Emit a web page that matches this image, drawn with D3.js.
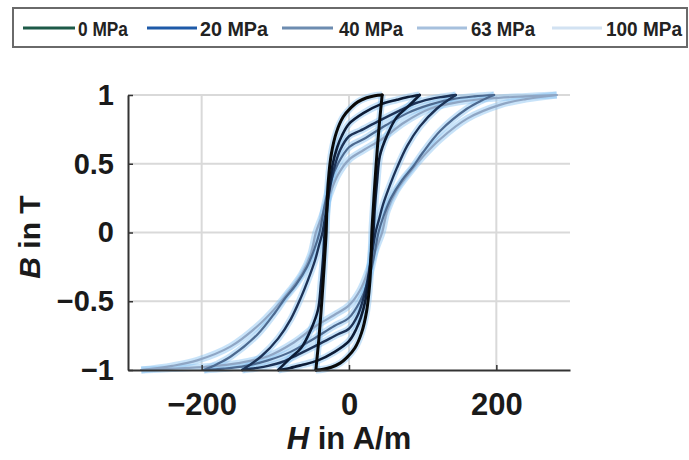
<!DOCTYPE html>
<html>
<head>
<meta charset="utf-8">
<script src="https://cdn.jsdelivr.net/npm/d3@7"></script>
<style>
  html, body { margin: 0; padding: 0; background: #fff; }
  svg { display: block; }
</style>
</head>
<body>
<svg id="chart" width="689" height="460"></svg>
<script>
// ---------------- data ----------------
const stressLabels = ["0 MPa", "20 MPa", "40 MPa", "63 MPa", "100 MPa"];
const xTicks = [-200, 0, 200];
const yTicks = [-1, -0.5, 0, 0.5, 1];

// ascending branches [H in A/m, B in T]
const asc0 = [[-45,-1],[-35,-0.995],[-24,-0.98],[-12,-0.95],[-3,-0.91],[8,-0.84],[17,-0.73],[24,-0.57],[28,-0.38],[30,-0.18],[31,0],[33,0.18],[35,0.35],[38,0.58],[41,0.78],[43.5,0.92],[45,1]];
const asc20 = [[-96,-1],[-80,-0.985],[-65,-0.965],[-42,-0.93],[-20,-0.87],[0,-0.79],[10,-0.7],[16,-0.62],[22,-0.5],[27,-0.32],[30,-0.15],[33,0],[35,0.18],[38,0.37],[42,0.56],[52,0.71],[65,0.84],[79,0.91],[96,1]];
const asc40 = [[-145,-1],[-125,-0.985],[-110,-0.97],[-90,-0.94],[-70,-0.89],[-40,-0.81],[-15,-0.74],[0,-0.7],[12,-0.6],[20,-0.47],[26,-0.32],[31,-0.16],[36,0],[41,0.1],[46,0.2],[56,0.35],[65,0.47],[79,0.63],[96,0.77],[119,0.9],[145,1]];
const asc63 = [[-197,-1],[-170,-0.99],[-140,-0.97],[-110,-0.93],[-80,-0.87],[-50,-0.78],[-20,-0.68],[0,-0.62],[15,-0.5],[25,-0.37],[33,-0.2],[40,0],[47,0.12],[57,0.25],[72,0.38],[87,0.48],[100,0.58],[124,0.74],[160,0.9],[180,0.96],[197,1]];
const asc100 = [[-282,-1],[-240,-0.99],[-191,-0.975],[-150,-0.95],[-110,-0.9],[-75,-0.8],[-45,-0.68],[-20,-0.6],[0,-0.53],[15,-0.42],[28,-0.25],[38,-0.1],[45,0],[52,0.16],[64,0.3],[80,0.42],[100,0.55],[124,0.68],[161,0.83],[206,0.93],[240,0.97],[282,1]];

// descending branches [H in A/m, B in T]
const desc0 = [[45,1],[35,0.995],[24,0.98],[12,0.95],[3,0.91],[-8,0.84],[-17,0.73],[-24,0.57],[-28,0.38],[-30,0.18],[-31,0],[-33,-0.18],[-35,-0.35],[-38,-0.58],[-41,-0.78],[-43.5,-0.92],[-45,-1]];
const desc20 = [[96,1],[80,0.985],[65,0.965],[42,0.93],[20,0.87],[0,0.79],[-10,0.7],[-16,0.62],[-22,0.5],[-27,0.32],[-30,0.15],[-33,0],[-35,-0.18],[-38,-0.37],[-42,-0.56],[-52,-0.71],[-65,-0.84],[-79,-0.91],[-96,-1]];
const desc40 = [[145,1],[125,0.985],[110,0.97],[90,0.94],[70,0.89],[40,0.81],[15,0.74],[0,0.7],[-12,0.6],[-20,0.47],[-26,0.32],[-31,0.16],[-36,0],[-41,-0.1],[-46,-0.2],[-56,-0.35],[-65,-0.47],[-79,-0.63],[-96,-0.77],[-119,-0.9],[-145,-1]];
const desc63 = [[197,1],[170,0.99],[140,0.97],[110,0.93],[80,0.87],[50,0.78],[20,0.68],[0,0.62],[-15,0.5],[-25,0.37],[-33,0.2],[-40,0],[-47,-0.12],[-57,-0.25],[-72,-0.38],[-87,-0.48],[-100,-0.58],[-124,-0.74],[-160,-0.9],[-180,-0.96],[-197,-1]];
const desc100 = [[282,1],[240,0.99],[191,0.975],[150,0.95],[110,0.9],[75,0.8],[45,0.68],[20,0.6],[0,0.53],[-15,0.42],[-28,0.25],[-38,0.1],[-45,0],[-52,-0.16],[-64,-0.3],[-80,-0.42],[-100,-0.55],[-124,-0.68],[-161,-0.83],[-206,-0.93],[-240,-0.97],[-282,-1]];

// ---------------- styling ----------------
const legendColors = ["#1d5a48", "#1e5aa8", "#6d8cb0", "#a6c0dd", "#d2e2f2"];
const plotColors   = ["#0a0a0a", "#0d1c36", "#1d3357", "#4d6a90", "#8fa6c4"];
const plotWidths   = [3, 2.6, 2.4, 2.2, 2.2];

const loops = [
  {label: stressLabels[0], branches: [asc0, desc0]},
  {label: stressLabels[1], branches: [asc20, desc20]},
  {label: stressLabels[2], branches: [asc40, desc40]},
  {label: stressLabels[3], branches: [asc63, desc63]},
  {label: stressLabels[4], branches: [asc100, desc100]}
];

const svg = d3.select("#chart");
const x = d3.scaleLinear().domain([-300, 300]).range([128, 570]);
const y = d3.scaleLinear().domain([-1, 1]).range([370, 95]);

// grid
const grid = svg.append("g");
grid.selectAll("line.gx").data(xTicks).join("line")
  .attr("x1", d => x(d)).attr("x2", d => x(d))
  .attr("y1", y(-1)).attr("y2", y(1))
  .attr("stroke", "#d9d9d9").attr("stroke-width", 2);
grid.selectAll("line.gy").data(yTicks.filter(d => d > -1)).join("line")
  .attr("x1", x(-300)).attr("x2", x(300))
  .attr("y1", d => y(d)).attr("y2", d => y(d))
  .attr("stroke", "#d9d9d9").attr("stroke-width", 2);

// curves
const line = d3.line().x(d => x(d[0])).y(d => y(d[1])).curve(d3.curveCatmullRom.alpha(0.5));
const order = [4, 3, 2, 1, 0];
const halo = svg.append("g");
order.forEach(i => {
  loops[i].branches.forEach(b => {
    halo.append("path").attr("d", line(b)).attr("fill", "none")
      .attr("stroke", "#86c0f2").attr("stroke-opacity", 0.45)
      .attr("stroke-width", 7).attr("stroke-linejoin", "round");
  });
});
const cores = svg.append("g");
order.forEach(i => {
  loops[i].branches.forEach(b => {
    cores.append("path").attr("d", line(b)).attr("fill", "none")
      .attr("stroke", plotColors[i]).attr("stroke-width", plotWidths[i])
      .attr("stroke-linejoin", "miter").attr("stroke-linecap", "round");
  });
});

// axes
const xAxis = d3.axisBottom(x).tickValues(xTicks).tickSizeInner(-5).tickSizeOuter(0).tickPadding(23);
const yAxis = d3.axisLeft(y).tickValues(yTicks).tickSizeInner(-5).tickSizeOuter(0).tickPadding(14)
  .tickFormat(d3.format(""));
const gx = svg.append("g").attr("transform", `translate(0,${y(-1)})`).call(xAxis);
const gy = svg.append("g").attr("transform", `translate(${x(-300)},0)`).call(yAxis);
[gx, gy].forEach(g => {
  g.select(".domain").attr("stroke", "#333").attr("stroke-width", 2);
  g.selectAll(".tick line").attr("stroke", "#333").attr("stroke-width", 1.5);
  g.selectAll(".tick text").attr("fill", "#1a1a1a")
    .attr("font-family", "'Liberation Sans', Arial, sans-serif").attr("font-weight", "bold");
});
gx.selectAll(".tick text").attr("font-size", 31);
gy.selectAll(".tick text").attr("font-size", 29);

// axis titles
const xt = svg.append("text").attr("x", 349).attr("y", 449).attr("text-anchor", "middle")
  .attr("font-family", "'Liberation Sans', Arial, sans-serif").attr("font-size", 31)
  .attr("font-weight", "bold").attr("fill", "#1a1a1a");
xt.append("tspan").attr("font-style", "italic").text("H");
xt.append("tspan").text(" in A/m");

const yt = svg.append("text").attr("transform", "translate(40,237) rotate(-90)")
  .attr("text-anchor", "middle")
  .attr("font-family", "'Liberation Sans', Arial, sans-serif").attr("font-size", 30)
  .attr("font-weight", "bold").attr("fill", "#1a1a1a");
yt.append("tspan").attr("font-style", "italic").text("B");
yt.append("tspan").text(" in T");

// legend
const legendLineX = [[23, 75], [147, 197], [282, 333], [417, 467], [552, 602]];
const legendTextX = [78, 200, 339, 471, 606];
const legendTextW = [50, 68, 64, 64, 76];
const lg = svg.append("g");
lg.append("rect").attr("x", 13).attr("y", 8).attr("width", 674).attr("height", 39)
  .attr("fill", "#fff").attr("stroke", "#6a6a6a").attr("stroke-width", 2);
stressLabels.forEach((s, i) => {
  lg.append("line").attr("x1", legendLineX[i][0]).attr("x2", legendLineX[i][1])
    .attr("y1", 28).attr("y2", 28).attr("stroke", legendColors[i]).attr("stroke-width", 3);
  lg.append("text").attr("x", legendTextX[i]).attr("y", 28).attr("dy", "0.36em")
    .attr("font-family", "'Liberation Sans', Arial, sans-serif")
    .attr("font-size", 21).attr("font-weight", "bold").attr("fill", "#222")
    .attr("textLength", legendTextW[i]).attr("lengthAdjust", "spacingAndGlyphs")
    .text(s);
});
</script>
</body>
</html>
